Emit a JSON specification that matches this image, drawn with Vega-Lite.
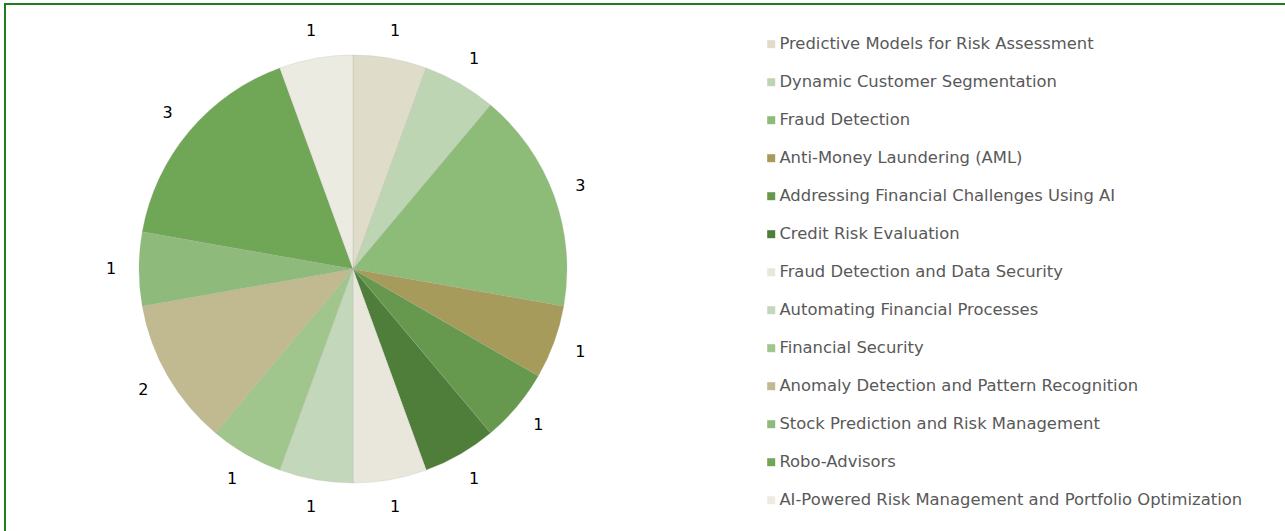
{
  "$schema": "https://vega.github.io/schema/vega-lite/v6.json",
  "width": 1285,
  "height": 531,
  "autosize": {"type": "fit", "contains": "padding"},
  "padding": {"left": 4, "top": 3, "right": -4, "bottom": -4},
  "background": "white",
  "config": {"view": {"stroke": null}},
  "data": {
    "values": [
      {"idx": 1, "topic": "Predictive Models for Risk Assessment", "count": 1},
      {"idx": 2, "topic": "Dynamic Customer Segmentation", "count": 1},
      {"idx": 3, "topic": "Fraud Detection", "count": 3},
      {"idx": 4, "topic": "Anti-Money Laundering (AML)", "count": 1},
      {"idx": 5, "topic": "Addressing Financial Challenges Using AI", "count": 1},
      {"idx": 6, "topic": "Credit Risk Evaluation", "count": 1},
      {"idx": 7, "topic": "Fraud Detection and Data Security", "count": 1},
      {"idx": 8, "topic": "Automating Financial Processes", "count": 1},
      {"idx": 9, "topic": "Financial Security", "count": 1},
      {"idx": 10, "topic": "Anomaly Detection and Pattern Recognition", "count": 2},
      {"idx": 11, "topic": "Stock Prediction and Risk Management", "count": 1},
      {"idx": 12, "topic": "Robo-Advisors", "count": 3},
      {"idx": 13, "topic": "AI-Powered Risk Management and Portfolio Optimization", "count": 1}
    ]
  },
  "layer": [
    {
      "data": {"values": [{"frame": 1}]},
      "mark": {"type": "rect", "fill": null, "stroke": "#1f7f1f", "strokeWidth": 2},
      "encoding": {}
    },
    {
      "mark": {"type": "arc", "x": 348, "y": 265, "outerRadius": 214, "stroke": "#b0b0a0", "strokeWidth": 0.4, "strokeOpacity": 0.6},
      "encoding": {
        "theta": {"field": "count", "type": "quantitative", "stack": true},
        "order": {"field": "idx", "type": "quantitative"},
        "color": {
          "field": "topic",
          "type": "nominal",
          "sort": null,
          "scale": {
            "domain": [
              "Predictive Models for Risk Assessment",
              "Dynamic Customer Segmentation",
              "Fraud Detection",
              "Anti-Money Laundering (AML)",
              "Addressing Financial Challenges Using AI",
              "Credit Risk Evaluation",
              "Fraud Detection and Data Security",
              "Automating Financial Processes",
              "Financial Security",
              "Anomaly Detection and Pattern Recognition",
              "Stock Prediction and Risk Management",
              "Robo-Advisors",
              "AI-Powered Risk Management and Portfolio Optimization"
            ],
            "range": ["#dfdcc9", "#bed5b4", "#8dbb78", "#a69b5a", "#66994d", "#4f7e3b", "#e9e7dc", "#c3d8ba", "#a0c68e", "#c1b990", "#8ebb7b", "#6fa756", "#ecebe1"]
          },
          "legend": {
            "orient": "none",
            "legendX": 758,
            "legendY": 32,
            "title": null,
            "symbolType": "square",
            "symbolSize": 64,
            "symbolStrokeWidth": 0,
            "labelFont": "DejaVu Sans",
            "labelFontSize": 16.4,
            "labelColor": "#595959",
            "labelOffset": 0,
            "labelLimit": 700,
            "rowPadding": 21
          }
        }
      }
    },
    {
      "mark": {"type": "text", "x": 348, "y": 265, "radius": 242, "font": "DejaVu Sans", "fontSize": 16, "color": "#000000", "align": "center", "baseline": "middle"},
      "encoding": {
        "theta": {"field": "count", "type": "quantitative", "stack": true},
        "order": {"field": "idx", "type": "quantitative"},
        "text": {"field": "count", "type": "quantitative"}
      }
    }
  ]
}
